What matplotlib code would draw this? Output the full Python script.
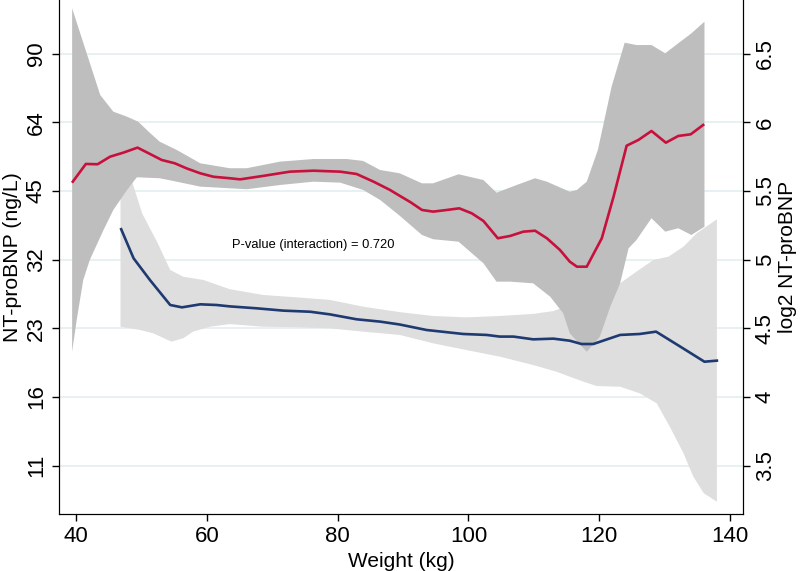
import matplotlib
matplotlib.use("Agg")
import matplotlib.pyplot as plt

plt.rcParams["font.family"] = ["Liberation Sans", "DejaVu Sans"]

# red curve (log2 NT-proBNP) and its band
red_x = [39.5, 41.5, 43.3, 45.2, 47.2, 49.4, 51.3, 53.1, 55.1, 56.9, 59.0, 61.0, 63.5,
         65.1, 68.6, 72.7, 76.3, 80.4, 82.9, 85.5, 88.0, 89.5, 91.1, 92.9, 94.6, 96.7,
         98.6, 100.5, 102.3, 104.5, 106.4, 108.4, 110.2, 112.0, 114.0, 115.5, 116.6,
         118.1, 120.4, 122.2, 124.2, 126.0, 128.0, 130.2, 132.1, 134.0, 135.9]
red_y = [5.568, 5.697, 5.695, 5.75, 5.779, 5.816, 5.77, 5.726, 5.702, 5.665, 5.629, 5.604,
         5.593, 5.585, 5.61, 5.641, 5.648, 5.641, 5.624, 5.568, 5.508, 5.465, 5.42, 5.362,
         5.35, 5.362, 5.374, 5.338, 5.282, 5.156, 5.173, 5.204, 5.211, 5.156, 5.071, 4.986,
         4.949, 4.949, 5.156, 5.459, 5.83, 5.872, 5.937, 5.852, 5.901, 5.913, 5.981]

red_hi_x = [39.4, 43.7, 45.7, 47.8, 49.5, 51.1, 52.8, 55.4, 59.0, 63.5, 66.1, 71.2, 76.3,
            81.4, 83.9, 86.5, 89.5, 92.9, 94.6, 98.5, 102.3, 104.3, 107.4, 110.2, 112.0,
            115.5, 116.6, 118.1, 119.8, 121.9, 123.9, 125.7, 128.0, 130.1, 132.1, 134.1,
            136.1]
red_hi_y = [6.83, 6.199, 6.078, 6.041, 6.005, 5.932, 5.859, 5.799, 5.702, 5.666, 5.666,
            5.714, 5.733, 5.733, 5.719, 5.653, 5.629, 5.556, 5.556, 5.622, 5.58, 5.488,
            5.544, 5.593, 5.568, 5.495, 5.508, 5.568, 5.799, 6.26, 6.58, 6.563, 6.563,
            6.503, 6.576, 6.648, 6.733]

red_lo_x = [39.4, 40.1, 41.1, 42.1, 44.2, 45.7, 47.8, 49.3, 52.8, 55.4, 59.0, 63.5, 66.1,
            71.2, 76.3, 80.4, 83.9, 86.5, 89.5, 92.9, 94.6, 98.5, 102.3, 104.3, 106.4,
            109.9, 112.5, 114.5, 115.5, 118.1, 120.1, 121.7, 123.2, 124.5, 125.7, 128.0,
            130.1, 132.1, 134.1, 136.1]
red_lo_y = [4.33, 4.561, 4.852, 4.998, 5.216, 5.362, 5.508, 5.6, 5.593, 5.568, 5.532, 5.52,
            5.513, 5.544, 5.568, 5.561, 5.508, 5.435, 5.32, 5.18, 5.149, 5.131, 4.974,
            4.84, 4.84, 4.828, 4.731, 4.61, 4.464, 4.33, 4.439, 4.658, 4.828, 5.083, 5.143,
            5.302, 5.204, 5.229, 5.18, 5.24]

# navy curve and its band
navy_x = [46.9, 48.8, 51.3, 54.4, 56.2, 59.0, 61.5, 63.5, 67.6, 71.7, 75.8, 78.8, 82.9,
          86.5, 89.5, 93.6, 99.2, 102.8, 104.8, 106.9, 109.9, 113.0, 115.5, 117.3, 119.1,
          123.2, 126.2, 128.7, 132.4, 136.1, 138.0]
navy_y = [5.222, 5.01, 4.852, 4.67, 4.653, 4.675, 4.67, 4.66, 4.646, 4.629, 4.621, 4.602,
          4.566, 4.549, 4.528, 4.488, 4.459, 4.452, 4.44, 4.44, 4.42, 4.425, 4.41, 4.386,
          4.386, 4.452, 4.459, 4.476, 4.367, 4.257, 4.265]

navy_hi_x = [46.8, 48.5, 50.1, 52.5, 54.4, 56.4, 59.5, 63.5, 68.6, 73.7, 78.8, 83.9, 89.5,
             94.6, 99.7, 104.8, 109.9, 113.0, 116.0, 120.0, 123.2, 125.7, 128.3, 130.6,
             132.9, 134.9, 138.0]
navy_hi_y = [5.45, 5.579, 5.338, 5.119, 4.925, 4.876, 4.852, 4.785, 4.743, 4.726, 4.707,
             4.658, 4.618, 4.59, 4.58, 4.59, 4.605, 4.626, 4.68, 4.76, 4.828, 4.913, 4.998,
             5.022, 5.095, 5.192, 5.294]

navy_lo_x = [46.8, 49.8, 51.8, 54.6, 56.4, 57.9, 60.5, 63.5, 68.6, 73.7, 78.8, 83.9, 89.5,
             94.6, 99.7, 104.8, 109.9, 113.5, 115.5, 117.6, 119.6, 123.2, 126.2, 128.8,
             130.8, 132.9, 134.4, 136.0, 138.0]
navy_lo_y = [4.512, 4.488, 4.464, 4.403, 4.428, 4.476, 4.512, 4.531, 4.512, 4.508, 4.50,
             4.476, 4.452, 4.391, 4.342, 4.294, 4.233, 4.184, 4.148, 4.112, 4.08, 4.075,
             4.027, 3.954, 3.784, 3.59, 3.42, 3.299, 3.238]

log2_ticks = [3.5, 4, 4.5, 5, 5.5, 6, 6.5]
left_labels = ["11", "16", "23", "32", "45", "64", "90"]
right_labels = ["3.5", "4", "4.5", "5", "5.5", "6", "6.5"]
x_ticks = [40, 60, 80, 100, 120, 140]

fig = plt.figure(figsize=(8, 5.71), dpi=100)
ax = fig.add_axes([0.0734, 0.0998, 0.8554, 0.9002])

grey_light = "#dedede"
grey_dark = "#bebebe"

ax.fill(navy_hi_x + navy_lo_x[::-1], navy_hi_y + navy_lo_y[::-1],
        color=grey_light, lw=0, zorder=1)
ax.fill(red_hi_x + red_lo_x[::-1], red_hi_y + red_lo_y[::-1],
        color=grey_dark, lw=0, zorder=2)
ax.plot(red_x, red_y, color="#c8103c", lw=1.9, zorder=3)
ax.plot(navy_x, navy_y, color="#1f3a70", lw=1.9, zorder=3)

ax.text(63.9, 5.107, "P-value (interaction) = 0.720", fontsize=9.3,
        ha="left", va="center", zorder=4)

ax.set_xlim(37.35, 142.0)
ax.set_ylim(3.148, 6.891)
ax.set_xticks(x_ticks)
ax.set_yticks(log2_ticks)
ax.set_yticklabels(left_labels, rotation=90, va="center")
ax.yaxis.grid(True, color="#e6f0f0", lw=1.3, zorder=0)
ax.set_axisbelow(True)
ax.tick_params(labelsize=16, length=5, width=1, color="black")
ax.set_xlabel("Weight (kg)", fontsize=15)
ax.set_ylabel("NT-proBNP (ng/L)", fontsize=15.3)
ax.xaxis.set_label_coords(0.5, -0.074)
ax.yaxis.set_label_coords(-0.054, 0.5)
ax.spines["top"].set_visible(False)

ax2 = ax.twinx()
ax2.set_ylim(ax.get_ylim())
ax2.set_yticks(log2_ticks)
ax2.set_yticklabels(right_labels, rotation=90, va="center")
ax2.tick_params(labelsize=16, length=5, width=1)
ax2.set_ylabel("log2 NT-proBNP", fontsize=15)
ax2.yaxis.set_label_coords(1.051, 0.5)
ax2.spines["top"].set_visible(False)

fig.savefig("out.png", dpi=100)
